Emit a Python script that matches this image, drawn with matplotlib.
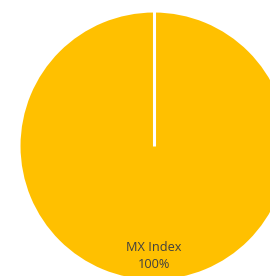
import numpy as np
import matplotlib
matplotlib.use("Agg")
from matplotlib import pyplot as plt

# data
names = ["MX Index"]
shares = [100]
colors = ["#FFC000"]

W, H = 270, 276
fig = plt.figure(figsize=(W / 100, H / 100), dpi=100)
ax = fig.add_axes([0, 0, 1, 1])

labels = [f"{n}\n{s}%" for n, s in zip(names, shares)]
wedges, texts = ax.pie(
    shares,
    labels=labels,
    colors=colors,
    center=(154, H - 146),
    radius=135,
    startangle=90,
    counterclock=True,
    labeldistance=0.815,
    wedgeprops=dict(edgecolor="white", linewidth=2.2),
    textprops=dict(ha="center", va="center", color="#404040",
                   fontsize=9.2, family=["Open Sans", "DejaVu Sans"],
                   linespacing=1.35),
    frame=True,
)

# a full-circle wedge has no radial edge, so draw the slice border by hand
for w in wedges:
    cx, cy = w.center
    a = np.deg2rad(w.theta1)
    ax.plot([cx, cx + w.r * np.cos(a)], [cy, cy + w.r * np.sin(a)],
            color="white", lw=2.2, solid_capstyle="butt")

ax.set_xlim(0, W)
ax.set_ylim(0, H)
ax.set_aspect("equal")
ax.axis("off")

fig.savefig("out.png", dpi=100)
